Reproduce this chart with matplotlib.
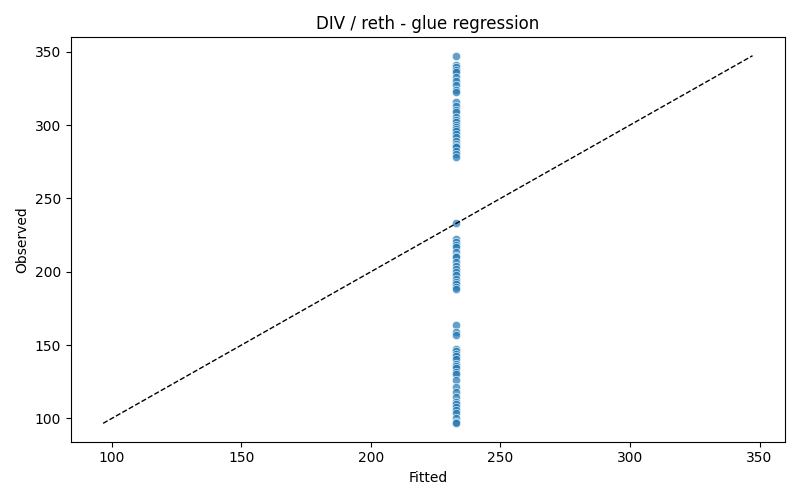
import numpy as np
import matplotlib.pyplot as plt

# === Data ===
fitted_value = 233.0
observed = [
    347.3, 341.0, 339.5, 337.8, 336.0, 333.0, 330.2, 327.6, 324.0, 322.5,
    315.4, 313.0, 310.6, 308.6, 305.8, 303.8, 301.8, 300.0, 298.4, 297.0,
    295.7, 293.6, 291.6, 288.9, 286.8, 285.5, 284.8, 282.1, 280.0, 278.5,
    233.0, 222.3, 220.0, 218.5, 216.6, 213.2, 211.0, 209.8, 206.4, 204.1,
    202.0, 199.7, 197.5, 195.1, 193.0, 191.7, 189.5, 188.3,
    163.9, 158.9, 156.6, 147.6, 146.0, 144.2, 142.5, 140.8, 137.4, 135.5,
    134.0, 131.7, 130.5, 126.0, 121.5, 118.1, 114.7, 111.3, 109.5, 107.9,
    105.5, 103.4, 100.0, 97.8, 96.6,
]
fitted = [fitted_value] * len(observed)

# === Plot ===
fig, ax = plt.subplots(figsize=(8, 5), dpi=100)
ax.scatter(fitted, observed, s=36, color='#1f77b4', alpha=0.7,
           edgecolors='white', linewidths=0.6)
lo, hi = min(observed), max(observed)
ax.plot([lo, hi], [lo, hi], 'k--', lw=1)
ax.set_title("DIV / reth - glue regression")
ax.set_xlabel("Fitted")
ax.set_ylabel("Observed")
plt.tight_layout()
plt.savefig("out.png", dpi=100)
